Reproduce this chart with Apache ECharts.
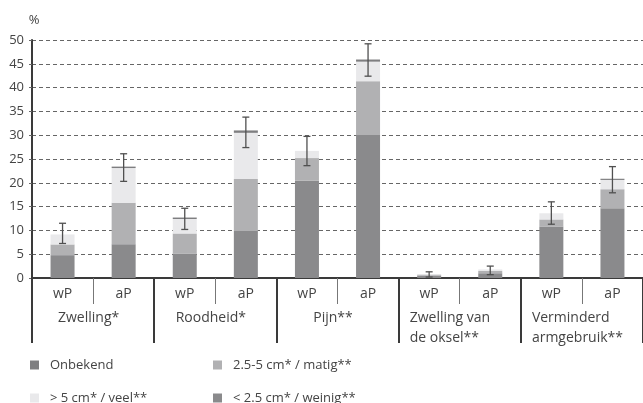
<!DOCTYPE html>
<html>
<head>
<meta charset="utf-8">
<script src="https://cdn.jsdelivr.net/npm/echarts@6/dist/echarts.min.js"></script>
<style>
  html, body { margin: 0; padding: 0; background: #fff; }
  #chart { width: 643px; height: 403px; }
</style>
</head>
<body>
<div id="chart"></div>
<script>
// Sub-categories (one bar each) and the symptom groups they belong to
const subCategories = ['wP', 'aP', 'wP', 'aP', 'wP', 'aP', 'wP', 'aP', 'wP', 'aP'];
const groups = ['Zwelling*', 'Roodheid*', 'Pijn**', 'Zwelling van\nde oksel**', 'Verminderd\narmgebruik**'];

// Stacked segments, in %, bottom to top
const weinig   = [4.8, 7.1, 5.15, 9.85, 20.5, 30.05, 0.5, 1.0, 10.75, 14.65]; // < 2.5 cm* / weinig**
const matig    = [2.25, 8.7, 4.2, 10.95, 4.7, 11.3, 0.2, 0.5, 1.55, 4.0];     // 2.5-5 cm* / matig**
const veel     = [2.1, 7.3, 3.05, 9.7, 1.5, 4.1, 0, 0.3, 1.3, 1.95];         // > 5 cm* / veel**
const onbekend = [0, 0.3, 0.3, 0.5, 0, 0.45, 0, 0, 0, 0.25];                // Onbekend

// Confidence interval bounds per bar
const errLow  = [7.25, 20.3, 10.2, 27.4, 23.6, 42.4, 0.2, 0.7, 11.3, 17.9];
const errHigh = [11.5, 26.1, 14.65, 33.8, 29.75, 49.2, 1.3, 2.5, 16.0, 23.4];

// Value axis
const yMin = 0, yMax = 50, yStep = 5;

const FONT = 'Open Sans';
const TEXT = '#444';
const C_DARK = '#8a8a8c', C_MID = '#b1b1b3', C_LIGHT = '#e9e9eb', C_UNKNOWN = '#7e7e80';

const chart = echarts.init(document.getElementById('chart'), null, { renderer: 'canvas' });

function barSeries(name, data, color) {
  return {
    name, type: 'bar', stack: 'total', data,
    xAxisIndex: 0, yAxisIndex: 0,
    barWidth: 24,
    itemStyle: { color },
    emphasis: { disabled: true },
    silent: true
  };
}

const legendBase = {
  orient: 'vertical',
  icon: 'rect',
  itemWidth: 9,
  itemHeight: 9,
  itemGap: 17,
  padding: 0,
  top: 357,
  height: 80,
  selectedMode: false,
  textStyle: { fontFamily: FONT, fontSize: 13, color: TEXT, lineHeight: 16, padding: [0, 0, 0, 6] }
};

chart.setOption({
  animation: false,
  textStyle: { fontFamily: FONT },
  grid: { left: 32, right: -1, top: 40, bottom: 125, containLabel: false },
  legend: [
    Object.assign({}, legendBase, { left: 30, data: ['Onbekend', '> 5 cm* / veel**'] }),
    Object.assign({}, legendBase, { left: 213, data: ['2.5-5 cm* / matig**', '< 2.5 cm* / weinig**'] })
  ],
  xAxis: [
    {
      type: 'category',
      position: 'bottom',
      data: subCategories,
      axisLine: { show: true, lineStyle: { color: '#3a3a3a', width: 2 } },
      axisTick: { show: true, interval: 0, length: 26, lineStyle: { color: '#777', width: 1 } },
      axisLabel: { interval: 0, margin: 8, fontFamily: FONT, fontSize: 14, color: TEXT, lineHeight: 16 },
      splitLine: { show: false }
    },
    {
      type: 'category',
      position: 'bottom',
      data: groups,
      axisLine: { show: false },
      axisTick: { show: true, interval: 0, length: 65, lineStyle: { color: '#3a3a3a', width: 2 } },
      axisLabel: {
        interval: 0,
        margin: 30,
        fontFamily: FONT, fontSize: 14, color: TEXT,
        formatter: function (v) {
          if (v.indexOf('\n') >= 0) {
            return v.split('\n').map(function (l) { return '{b|' + l + '}'; }).join('\n');
          }
          return '{a|' + v + '}';
        },
        rich: {
          a: { fontFamily: FONT, fontSize: 14, color: TEXT, lineHeight: 20, padding: [0, 9, 0, 0] },
          b: { fontFamily: FONT, fontSize: 14, color: TEXT, lineHeight: 20, width: 100, align: 'left' }
        }
      },
      splitLine: { show: false }
    }
  ],
  yAxis: {
    type: 'value',
    min: yMin, max: yMax, interval: yStep,
    name: '%',
    nameLocation: 'end',
    nameGap: 13,
    nameTextStyle: { fontFamily: FONT, fontSize: 13, color: TEXT, padding: [0, 0, 0, 4] },
    axisLine: { show: true, lineStyle: { color: '#3a3a3a', width: 2 } },
    axisTick: { show: true, length: 3, lineStyle: { color: '#666', width: 1 } },
    axisLabel: { margin: 8, fontFamily: FONT, fontSize: 13, color: TEXT },
    splitLine: { show: true, lineStyle: { color: '#666', width: 1, type: [4, 3] } }
  },
  series: [
    barSeries('< 2.5 cm* / weinig**', weinig, C_DARK),
    barSeries('2.5-5 cm* / matig**', matig, C_MID),
    barSeries('> 5 cm* / veel**', veel, C_LIGHT),
    barSeries('Onbekend', onbekend, C_UNKNOWN),
    {
      name: 'ci',
      type: 'custom',
      xAxisIndex: 0, yAxisIndex: 0,
      silent: true,
      z: 10,
      data: errLow.map(function (lo, i) { return [i, lo, errHigh[i]]; }),
      encode: { x: 0, y: [1, 2] },
      renderItem: function (params, api) {
        const idx = api.value(0);
        const lo = api.coord([idx, api.value(1)]);
        const hi = api.coord([idx, api.value(2)]);
        const hw = 3.5;
        const style = { stroke: '#505050', lineWidth: 1.3 };
        return {
          type: 'group',
          children: [
            { type: 'line', shape: { x1: lo[0], y1: lo[1], x2: hi[0], y2: hi[1] }, style: style },
            { type: 'line', shape: { x1: lo[0] - hw, y1: lo[1], x2: lo[0] + hw, y2: lo[1] }, style: style },
            { type: 'line', shape: { x1: hi[0] - hw, y1: hi[1], x2: hi[0] + hw, y2: hi[1] }, style: style }
          ]
        };
      }
    }
  ]
});
</script>
</body>
</html>
